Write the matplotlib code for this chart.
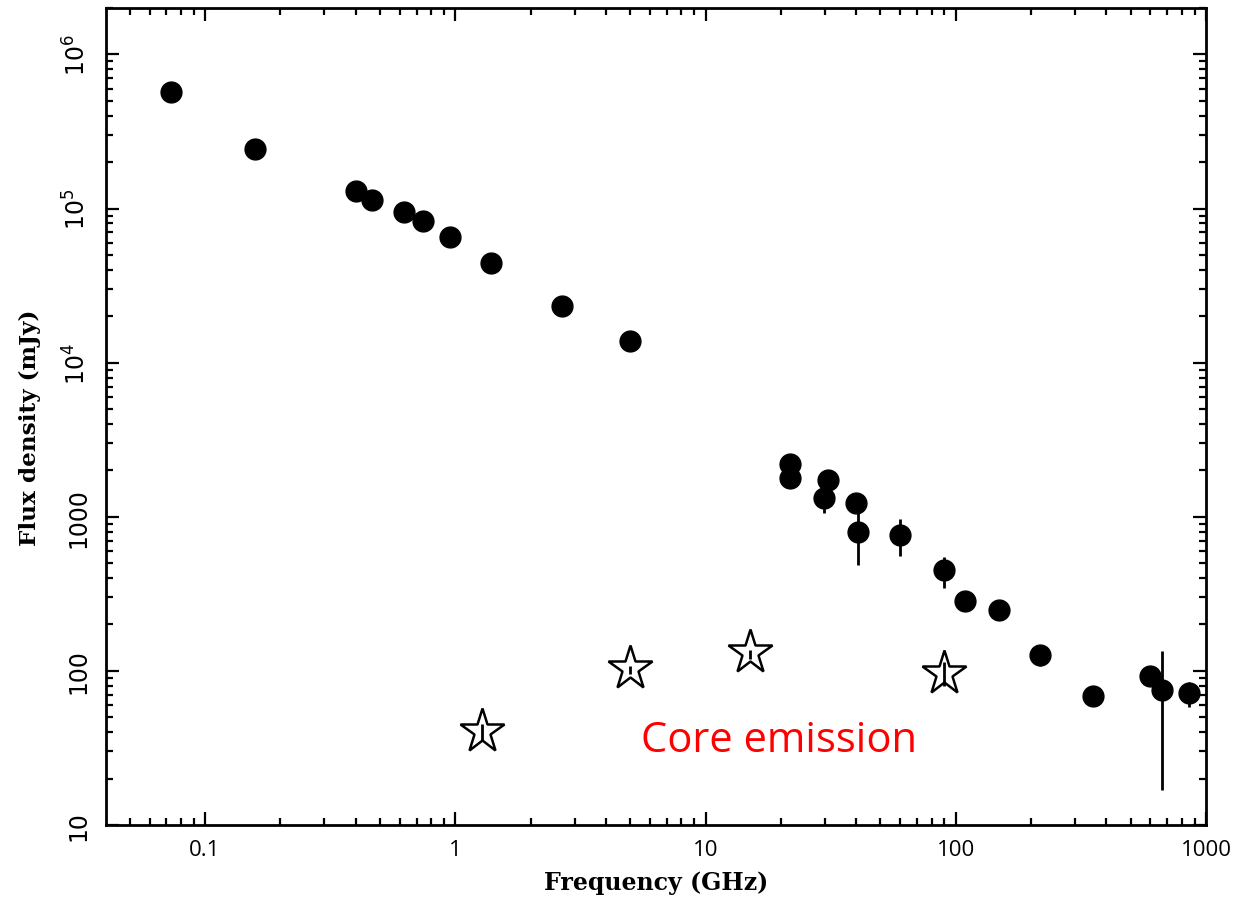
import matplotlib
matplotlib.use('Agg')
import matplotlib.pyplot as plt
from matplotlib.ticker import FixedLocator, LogLocator, NullFormatter

# total flux density (filled circles)
freq = [0.073, 0.158, 0.40, 0.466, 0.625, 0.745, 0.955, 1.39, 2.68, 4.97,
        21.8, 21.8, 30.8, 29.8, 39.8, 40.8, 59.9, 89.8, 109, 149,
        218, 352, 597, 665, 853]
flux = [5.68e5, 2.43e5, 1.30e5, 1.13e5, 9.48e4, 8.28e4, 6.53e4, 4.43e4, 2.33e4, 1.38e4,
        2203, 1786, 1742, 1318, 1231, 794, 764, 449, 284, 249,
        126, 69.2, 92.7, 74.8, 72.3]
err_lo = [0, 0, 0, 0, 0, 0, 0, 0, 0, 0,
          0, 0, 0, 260, 0, 305, 206, 105, 0, 0,
          19, 0, 0, 58, 13.6]
err_hi = [0, 0, 0, 0, 0, 0, 0, 0, 0, 0,
          0, 0, 0, 260, 0, 297, 205, 102, 0, 0,
          19, 0, 0, 59, 12]

# core emission (open stars)
core_freq = [1.28, 5.0, 15.0, 90.0]
core_flux = [40.8, 105, 132, 96.4]
core_lo = [5.8, 9, 13, 17]
core_hi = [4.3, 3, 5, 18]

ytick_vals = [10, 100, 1000, 1e4, 1e5, 1e6]
ytick_text = ['10', '100', '1000', '$10^4$', '$10^5$', '$10^6$']
xtick_vals = [0.1, 1, 10, 100, 1000]
xtick_text = ['0.1', '1', '10', '100', '1000']

fig = plt.figure(figsize=(12.43, 9.03), dpi=100)
ax = fig.add_axes([106/1243, 77/903, 1100/1243, 817/903])
ax.set_xscale('log')
ax.set_yscale('log')

ax.errorbar(freq, flux, yerr=[err_lo, err_hi], fmt='o', color='black',
            markersize=15, elinewidth=2, capsize=0, zorder=3)
ax.plot(core_freq, core_flux, '*', markersize=33, mfc='white', mec='black',
        mew=1.8, zorder=3)
ax.errorbar(core_freq, core_flux, yerr=[core_lo, core_hi], fmt='none',
            ecolor='black', elinewidth=2, capsize=0, zorder=4)

ax.text(5.5, 35.6, 'Core emission', color='red', fontsize=30,
        family='Open Sans', ha='left', va='center')

ax.set_xlim(0.0402, 1000)
ax.set_ylim(10, 2e6)

ax.xaxis.set_major_locator(FixedLocator(xtick_vals))
ax.set_xticklabels(xtick_text, fontsize=16, family='Open Sans')
ax.xaxis.set_minor_locator(LogLocator(base=10, subs=range(2, 10)))
ax.xaxis.set_minor_formatter(NullFormatter())
ax.yaxis.set_major_locator(FixedLocator(ytick_vals))
ax.set_yticklabels(ytick_text, fontsize=17, rotation=90, va='center')
ax.yaxis.set_minor_locator(LogLocator(base=10, subs=range(2, 10)))
ax.yaxis.set_minor_formatter(NullFormatter())

ax.tick_params(which='both', direction='in', top=True, right=True, width=1.6)
ax.tick_params(which='major', length=9.2)
ax.tick_params(which='minor', length=4.8)
ax.tick_params(axis='x', pad=10)
ax.tick_params(axis='y', pad=11)
for sp in ax.spines.values():
    sp.set_linewidth(2)

ax.set_xlabel('Frequency (GHz)', fontsize=17, fontweight='bold',
              family='DejaVu Serif', va='center')
ax.xaxis.set_label_coords(0.5, -0.0698)
ax.set_ylabel('Flux density (mJy)', fontsize=16.7, fontweight='bold',
              family='DejaVu Serif', va='center', ha='center')
ax.yaxis.set_label_coords(-0.069, 0.488)

fig.savefig('out.png', dpi=100)
